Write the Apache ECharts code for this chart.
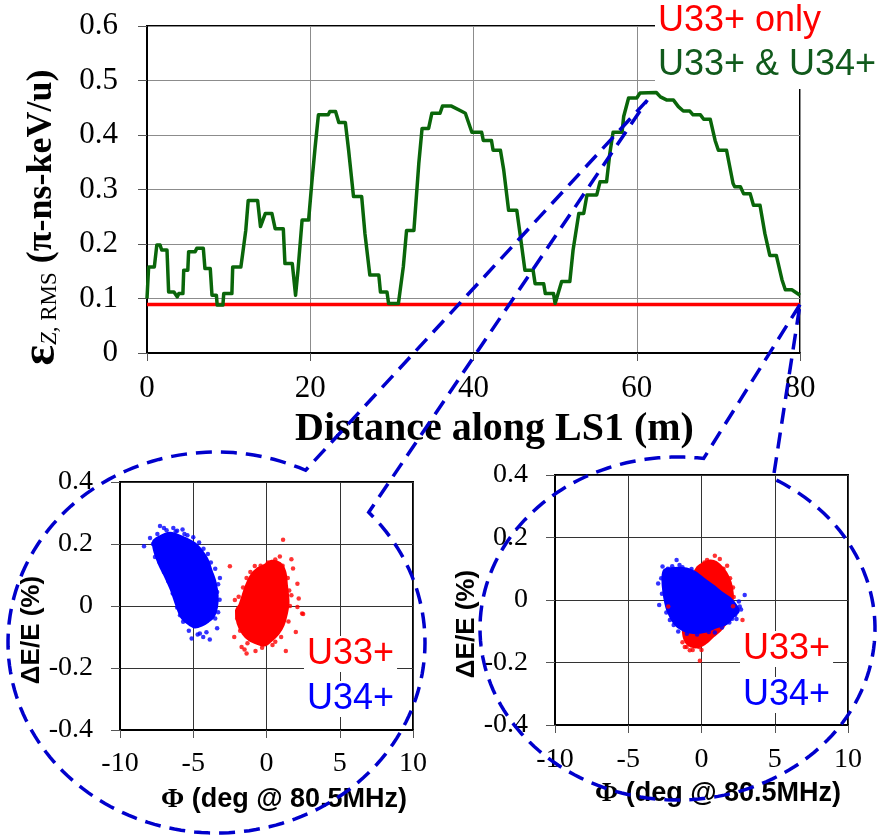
<!DOCTYPE html>
<html>
<head>
<meta charset="utf-8">
<script src="https://cdn.jsdelivr.net/npm/echarts@6/dist/echarts.min.js"></script>
<style>
  html, body { margin: 0; padding: 0; background: #fff; }
  #main { width: 885px; height: 836px; }
</style>
</head>
<body>
<div id="main"></div>
<script>
// ---- Longitudinal RMS emittance along LS1 (m, π-ns-keV/u) ----
const distance = [
  0.0, 0.2, 0.9, 1.2, 1.6, 1.8, 2.45, 2.65, 3.3, 3.7, 3.9, 4.4, 4.5, 5.0, 5.1, 5.9, 6.1, 6.9, 7.1, 7.75,
  7.96, 8.5, 8.6, 9.3, 9.4, 10.4, 10.5, 11.5, 11.7, 12.1, 12.4, 13.55, 13.9, 14.5, 15.3, 15.7, 16.7, 16.9, 17.8, 18.2,
  18.5, 19.0, 19.8, 20.2, 20.6, 21.0, 22.2, 22.4, 23.1, 23.5, 24.3, 24.7, 25.3, 26.3, 26.7, 27.3, 28.4, 28.6, 29.4, 29.6,
  30.8, 31.4, 31.8, 32.7, 33.3, 33.7, 34.5, 34.9, 35.9, 36.2, 37.3, 38.6, 39.0, 39.8, 41.0, 41.2, 42.2, 42.4, 43.3, 43.7,
  44.3, 45.3, 45.7, 46.3, 47.3, 47.55, 48.6, 48.8, 49.8, 50.0, 50.8, 51.8, 52.2, 52.9, 53.5, 53.9, 55.1, 55.5, 56.3, 56.7,
  57.1, 58.2, 58.4, 59.0, 60.0, 60.4, 62.4, 62.9, 63.7, 64.5, 65.1, 65.7, 66.5, 66.9, 67.8, 68.2, 69.0, 69.6, 70.0, 71.0,
  71.8, 72.0, 72.7, 73.1, 73.9, 74.3, 75.1, 75.7, 76.3, 77.1, 77.8, 78.2, 79.0, 80.0
];
const emitBoth = [
  0.100, 0.158, 0.158, 0.198, 0.198, 0.189, 0.189, 0.112, 0.112, 0.103, 0.109, 0.109, 0.152, 0.152, 0.186, 0.186, 0.192, 0.192, 0.155, 0.155,
  0.106, 0.106, 0.088, 0.088, 0.109, 0.109, 0.158, 0.158, 0.180, 0.225, 0.280, 0.280, 0.232, 0.256, 0.256, 0.228, 0.228, 0.164, 0.164, 0.106,
  0.152, 0.244, 0.244, 0.314, 0.378, 0.437, 0.437, 0.443, 0.443, 0.423, 0.423, 0.372, 0.287, 0.287, 0.219, 0.143, 0.143, 0.112, 0.112, 0.091,
  0.091, 0.158, 0.225, 0.225, 0.348, 0.412, 0.412, 0.440, 0.440, 0.453, 0.453, 0.443, 0.440, 0.405, 0.405, 0.390, 0.390, 0.372, 0.372, 0.336,
  0.262, 0.262, 0.219, 0.152, 0.152, 0.127, 0.127, 0.109, 0.109, 0.091, 0.131, 0.131, 0.189, 0.256, 0.256, 0.290, 0.290, 0.314, 0.314, 0.366,
  0.405, 0.405, 0.434, 0.468, 0.468, 0.477, 0.478, 0.470, 0.464, 0.464, 0.452, 0.444, 0.444, 0.437, 0.437, 0.429, 0.429, 0.390, 0.372, 0.372,
  0.311, 0.305, 0.305, 0.292, 0.292, 0.271, 0.271, 0.219, 0.179, 0.179, 0.134, 0.116, 0.116, 0.106
];
const distanceU33 = [0, 80];
const emitU33Only = [0.089, 0.089];

// ---- Longitudinal phase space (Φ deg @ 80.5 MHz, ΔE/E %) ----
// Near the emittance peak: dense-core outlines and sparse halo particles
const peakU34Core = [[-7.72,0.205],[-7.52,0.217],[-6.59,0.235],[-5.57,0.218],[-4.77,0.196],[-4.09,0.153],[-3.75,0.11],[-3.52,0.078],[-3.37,0.035],[-3.41,-0.003],[-3.64,-0.035],[-3.98,-0.049],[-4.43,-0.062],[-4.89,-0.068],[-5.34,-0.056],[-5.8,-0.035],[-6.13,0.003],[-6.48,0.051],[-6.93,0.099],[-7.27,0.131],[-7.61,0.174]];
const peakU34Halo = [[-8.36,0.193],[-7.95,0.219],[-7.27,0.258],[-7.0,0.252],[-6.82,0.244],[-6.36,0.252],[-6.1,0.243],[-5.73,0.247],[-5.4,0.228],[-5.0,0.222],[-4.6,0.205],[-4.3,0.185],[-4.0,0.168],[-3.8,0.14],[-3.5,0.12],[-3.18,0.09],[-3.3,0.07],[-3.37,0.045],[-3.2,0.02],[-3.3,-0.02],[-3.5,-0.04],[-3.37,-0.072],[-3.87,-0.108],[-4.1,-0.085],[-4.32,-0.1],[-4.55,-0.089],[-4.7,-0.092],[-5.11,-0.105],[-5.3,-0.08],[-5.69,-0.051],[-5.9,-0.03],[-6.1,-0.005],[-6.4,0.04],[-6.7,0.08],[-7.0,0.11],[-7.3,0.14],[-7.61,0.158],[-7.5,0.17],[-7.75,0.2],[-7.45,0.232],[-6.2,0.24],[-5.6,0.232]];
const peakU33Core = [[-1.82,0.003],[-1.59,0.035],[-1.36,0.067],[-1.02,0.099],[-0.57,0.121],[-0.12,0.131],[0.34,0.144],[0.91,0.137],[1.25,0.11],[1.36,0.067],[1.47,0.013],[1.36,-0.024],[1.13,-0.062],[0.79,-0.089],[0.34,-0.11],[-0.12,-0.126],[-0.57,-0.121],[-1.14,-0.11],[-1.59,-0.089],[-1.94,-0.056],[-2.05,-0.014]];
const peakU33Halo = [[1.13,0.214],[-2.5,0.128],[0.91,0.16],[1.7,0.151],[1.81,0.121],[2.11,0.072],[2.2,0.024],[-2.16,0.019],[-0.8,0.129],[-1.36,0.09],[1.7,0.035],[-1.36,-0.153],[-1.7,-0.132],[-2.2,-0.1],[0.41,-0.126],[1.32,-0.145],[2.0,-0.084],[2.43,-0.024],[2.5,-0.026],[-0.75,-0.145],[2.11,-0.003],[-1.1,0.11],[-1.6,0.06],[-1.9,0.03],[-2.0,-0.04],[-1.8,-0.08],[-1.3,-0.12],[-0.3,-0.135],[0.6,-0.115],[1.0,-0.1],[1.5,-0.05],[1.6,0.0],[1.55,0.05],[1.45,0.09],[1.1,0.13],[0.6,0.15],[0.1,0.14],[-0.4,0.13],[-1.5,-0.14]];

// At the end of LS1 (80 m)
const endU33Core = [[-0.5,0.08],[-0.25,0.105],[0.2,0.118],[0.6,0.125],[1.0,0.12],[1.45,0.1],[1.8,0.075],[2.05,0.04],[2.1,0.0],[1.9,-0.05],[1.4,-0.09],[0.8,-0.115],[0.2,-0.14],[-0.4,-0.15],[-0.95,-0.14],[-1.2,-0.115],[-1.2,-0.09],[-0.8,-0.05]];
const endU33Halo = [[0.91,0.142],[1.25,0.131],[1.75,0.11],[0.38,0.128],[-1.14,-0.15],[-0.8,-0.161],[-0.16,-0.15],[2.8,-0.064],[-0.11,-0.194],[-1.02,-0.15],[-2.27,-0.021],[1.95,0.07],[2.15,0.04],[1.5,0.1],[0.2,0.12],[-0.5,-0.14],[0.3,-0.13],[-1.3,-0.135],[2.2,0.01],[2.15,-0.02],[-0.6,-0.16],[0.0,-0.16]];
const endU34Core = [[-2.62,0.08],[-2.5,0.096],[-1.82,0.101],[-1.02,0.099],[-0.57,0.091],[-0.34,0.085],[0.2,0.065],[0.79,0.045],[1.4,0.022],[1.93,0.005],[2.39,-0.021],[2.5,-0.037],[2.15,-0.053],[1.7,-0.075],[1.02,-0.086],[0.34,-0.099],[-0.57,-0.104],[-1.25,-0.096],[-1.82,-0.075],[-2.27,-0.037],[-2.5,0.005],[-2.62,0.048]];
const endU34Halo = [[-1.7,0.128],[-2.96,0.053],[2.95,0.016],[2.61,-0.021],[2.39,-0.061],[0.91,-0.104],[-1.59,-0.101],[-2.16,-0.064],[-2.66,0.107],[-0.68,0.099],[-2.89,-0.016],[-2.3,0.1],[-1.3,0.105],[-2.75,0.07],[-2.7,0.02],[-2.4,-0.04],[-1.9,-0.08],[-1.0,-0.108],[-0.3,-0.11],[0.5,-0.102],[1.4,-0.088],[1.9,-0.072],[2.3,-0.048],[2.7,-0.03],[2.55,-0.005],[-1.5,0.112],[-2.0,0.108],[2.1,-0.06]];

// Axis ranges / tick steps
const mainX = { min: 0, max: 80, step: 20 };
const mainY = { min: 0, max: 0.6, step: 0.1 };
const phaseX = { min: -10, max: 10, step: 5 };
const phaseY = { min: -0.4, max: 0.4, step: 0.2 };

const SERIF = 'Liberation Serif';
const SANS = 'Liberation Sans';
const RED = '#ff0000';
const BLUE = '#0000ff';
const GREEN = '#0a660a';

const oneDecimal = v => (Math.abs(v) < 1e-9 ? '0' : v.toFixed(1));

function xAxisFor(grid, r, labelSize, margin, extra) {
  return Object.assign({
    gridIndex: grid, type: 'value', min: r.min, max: r.max, interval: r.step,
    axisLine: { show: true, onZero: false, lineStyle: { color: '#000', width: 2 } },
    axisTick: { show: true, length: 8, lineStyle: { color: '#555', width: 1 } },
    splitLine: { show: true, lineStyle: { color: grid === 0 ? '#8c8c8c' : '#333', width: 1 } },
    axisLabel: { color: '#000', fontFamily: SERIF, fontSize: labelSize, margin: margin }
  }, extra);
}
function yAxisFor(grid, r, labelSize, margin, extra) {
  return Object.assign({
    gridIndex: grid, type: 'value', min: r.min, max: r.max, interval: r.step,
    axisLine: { show: true, onZero: false, lineStyle: { color: '#000', width: 2 } },
    axisTick: { show: true, length: 9, lineStyle: { color: '#555', width: 1 } },
    splitLine: { show: true, lineStyle: { color: grid === 0 ? '#8c8c8c' : '#333', width: 1 } },
    axisLabel: { color: '#000', fontFamily: SERIF, fontSize: labelSize, margin: margin, formatter: oneDecimal }
  }, extra);
}

// Filled particle cloud drawn from its outline
function cloudSeries(idx, outline, color) {
  return {
    type: 'custom', xAxisIndex: idx, yAxisIndex: idx, silent: true, clip: true,
    data: [outline[0]],
    renderItem: function (params, api) {
      return {
        type: 'polygon',
        shape: { points: outline.map(p => api.coord(p)), smooth: 0.3 },
        style: { fill: color, stroke: color, lineWidth: 3 }
      };
    }
  };
}
function haloSeries(idx, pts, color) {
  return {
    type: 'scatter', xAxisIndex: idx, yAxisIndex: idx, silent: true,
    symbol: 'circle', symbolSize: 4.5, data: pts,
    itemStyle: { color: color }
  };
}

const phaseXName = '{f|Φ} (deg @ 80.5MHz)';
const phaseNameStyle = (pad) => ({
  color: '#000', fontFamily: SANS, fontWeight: 'bold', fontSize: 27, padding: pad,
  rich: { f: { fontFamily: SERIF, fontWeight: 'bold', fontSize: 28 } }
});

const option = {
  animation: false,
  backgroundColor: '#fff',
  grid: [
    { left: 147, top: 26, width: 653, height: 327, show: true, borderColor: '#000', borderWidth: 2 },
    { left: 120, top: 482, width: 293, height: 248, show: true, borderColor: '#000', borderWidth: 2 },
    { left: 555, top: 475, width: 293, height: 250, show: true, borderColor: '#000', borderWidth: 2 }
  ],
  xAxis: [
    xAxisFor(0, mainX, 31, 20, {
      name: 'Distance along LS1 (m)', nameLocation: 'middle', nameGap: 57,
      nameTextStyle: { color: '#000', fontFamily: SERIF, fontWeight: 'bold', fontSize: 40, padding: [0, 0, 0, 42] }
    }),
    xAxisFor(1, phaseX, 28, 20, {
      name: phaseXName, nameLocation: 'middle', nameGap: 56, nameTextStyle: phaseNameStyle([0, 0, 0, 35])
    }),
    xAxisFor(2, phaseX, 28, 21, {
      name: phaseXName, nameLocation: 'middle', nameGap: 55, nameTextStyle: phaseNameStyle([0, 0, 0, 33])
    })
  ],
  yAxis: [
    yAxisFor(0, mainY, 31, 29, {
      name: '{e|ε}{z|Z,}{r| RMS}{p| (π-ns-keV/u)}', nameLocation: 'middle', nameRotate: 90, nameGap: 81,
      nameTextStyle: {
        color: '#000', fontFamily: SERIF, fontWeight: 'bold', fontSize: 36, padding: [0, 56, 0, 0],
        rich: {
          e: { fontFamily: SERIF, fontWeight: 'bold', fontSize: 48 },
          z: { fontFamily: SERIF, fontStyle: 'italic', fontWeight: 'normal', fontSize: 23, padding: [16, 0, 0, 0] },
          r: { fontFamily: SERIF, fontWeight: 'normal', fontSize: 23, padding: [16, 0, 0, 0] },
          p: { fontFamily: SERIF, fontWeight: 'bold', fontSize: 36 }
        }
      }
    }),
    yAxisFor(1, phaseY, 28, 27, {
      name: 'ΔE/E (%)', nameLocation: 'middle', nameRotate: 90, nameGap: 74,
      nameTextStyle: { color: '#000', fontFamily: SANS, fontWeight: 'bold', fontSize: 26, padding: [0, 48, 0, 0] }
    }),
    yAxisFor(2, phaseY, 28, 27, {
      name: 'ΔE/E (%)', nameLocation: 'middle', nameRotate: 90, nameGap: 70,
      nameTextStyle: { color: '#000', fontFamily: SANS, fontWeight: 'bold', fontSize: 26, padding: [0, 48, 0, 0] }
    })
  ],
  series: [
    {
      name: 'U33+ only', type: 'line', xAxisIndex: 0, yAxisIndex: 0, symbol: 'none',
      data: distanceU33.map((d, i) => [d, emitU33Only[i]]),
      lineStyle: { color: RED, width: 3.5 }, z: 3
    },
    {
      name: 'U33+ & U34+', type: 'line', xAxisIndex: 0, yAxisIndex: 0, symbol: 'none',
      data: distance.map((d, i) => [d, emitBoth[i]]),
      lineStyle: { color: GREEN, width: 3.5, join: 'round' }, z: 4
    },
    cloudSeries(1, peakU34Core, BLUE),
    haloSeries(1, peakU34Halo, BLUE),
    cloudSeries(1, peakU33Core, RED),
    haloSeries(1, peakU33Halo, RED),
    cloudSeries(2, endU33Core, RED),
    haloSeries(2, endU33Halo, RED),
    cloudSeries(2, endU34Core, BLUE),
    haloSeries(2, endU34Halo, BLUE)
  ]
};

const chart = echarts.init(document.getElementById('main'), null, { renderer: 'canvas' });
chart.setOption(option);

// Speech-bubble style dashed outline: elliptical arc plus two legs to a tip
function callout(cx, cy, rx, ry, a0, a1, tip) {
  const pts = [tip];
  const n = 180;
  for (let i = 0; i <= n; i++) {
    const a = (a0 + (a1 - a0) * i / n) * Math.PI / 180;
    pts.push([cx + rx * Math.cos(a), cy + ry * Math.sin(a)]);
  }
  pts.push(tip);
  return {
    type: 'polyline', z: 100, silent: true,
    shape: { points: pts },
    style: { stroke: '#0000cc', lineWidth: 3.5, lineDash: [16, 9], fill: null }
  };
}
function label(text, x, y, color) {
  return {
    type: 'text', z: 50, silent: true,
    style: {
      text: text, x: x, y: y, fill: color, font: '36px "Liberation Sans"',
      verticalAlign: 'middle', backgroundColor: '#fff', padding: [0, 3, 0, 3]
    }
  };
}

const tipPeak = chart.convertToPixel({ gridIndex: 0 }, [61.3, 0.464]);
const tipEnd = chart.convertToPixel({ gridIndex: 0 }, [80, 0.089]);

chart.setOption({
  graphic: [
    { type: 'rect', z: 40, silent: true, shape: { x: 655, y: 0, width: 230, height: 89 }, style: { fill: '#fff' } },
    { type: 'text', z: 50, silent: true, style: { text: 'U33+ only', x: 658, y: 21, fill: RED, font: '36px "Liberation Sans"', verticalAlign: 'middle' } },
    { type: 'text', z: 50, silent: true, style: { text: 'U33+ & U34+', x: 658, y: 65, fill: '#115a1c', font: '36px "Liberation Sans"', verticalAlign: 'middle' } },
    label('U33+', 304, 654, RED),
    label('U34+', 304, 699, BLUE),
    label('U33+', 740, 649, RED),
    label('U34+', 740, 695, BLUE),
    callout(216.5, 642.5, 208.5, 190.5, -64.7, -403.1, tipPeak),
    callout(677.5, 628.5, 197.5, 171.5, -82.4, -421, tipEnd)
  ]
});
</script>
</body>
</html>
